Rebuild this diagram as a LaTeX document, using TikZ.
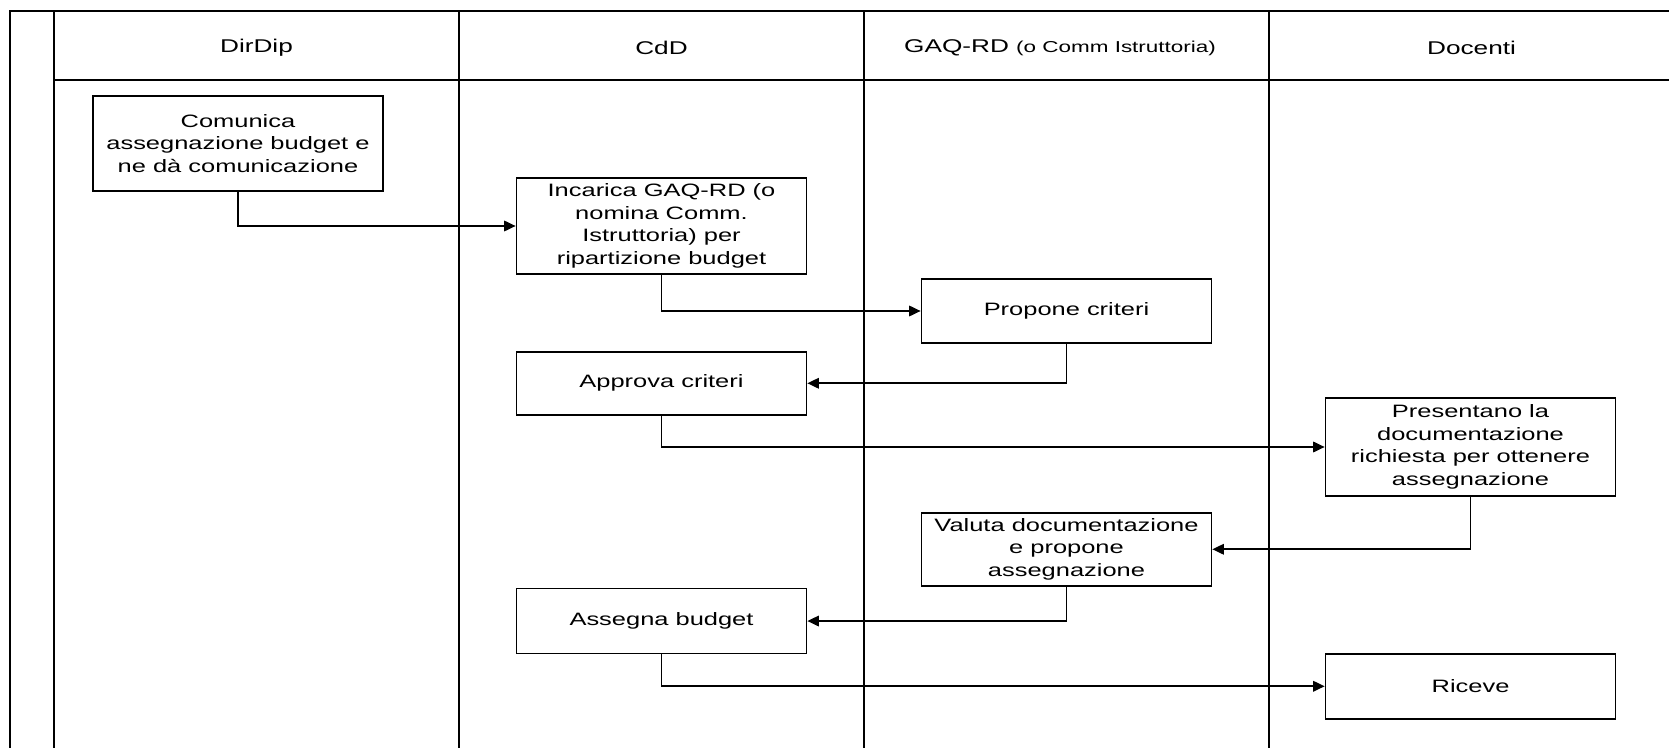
\documentclass[tikz,border=0pt]{standalone}
\usepackage{fontspec}
\setmainfont[FakeStretch=1.42]{Liberation Sans}
\usepackage{tikz}
\usetikzlibrary{positioning,arrows.meta}

\begin{document}
\begin{tikzpicture}[%
trans/.style={->,>={Triangle[length=6.5pt,width=6pt]},line width=0.9pt},%
lane/.style={line width=1.1pt},%
task/.style={draw,line width=1pt,minimum width=5.8cm,inner sep=1pt,align=center,font=\fontsize{10.2}{12.9}\selectfont},%
lanehead/.style={font=\fontsize{10.5}{12}\selectfont},%
node distance=1.52cm,%
  ]
    \useasboundingbox (0,0) rectangle (33.38,-14.96);

    % corsie
    \draw[lane] (0.2,-14.96) -- (0.2,-0.22) -- (33.38,-0.22);
    \draw[lane] (1.08,-1.6) -- (33.38,-1.6);
    \foreach \x in {1.08,9.18,17.28,25.38}
        \draw[lane] (\x,-0.22) -- (\x,-14.96);

    \node[lanehead] (dirdip) at (5.13,-0.95) {DirDip};
    \node[lanehead] (cdd) at (13.23,-0.95) {CdD};
    \node[lanehead] (gaq) at (21.2,-0.95) {GAQ-RD {\fontsize{9}{10}\selectfont (o Comm Istruttoria)}};
    \node[lanehead] (docenti) at (29.43,-0.95) {Docenti};

    \node[task,minimum height=1.9cm] (comunica) at (4.76,-2.87) {Comunica\\assegnazione budget e\\ne dà comunicazione};

    \node[task,minimum height=1.92cm] (incarica) at (13.23,-4.52) {Incarica GAQ-RD (o\\nomina Comm.\\Istruttoria) per\\ripartizione budget};

    \node[task,minimum height=1.28cm] (propone) at (21.33,-6.22) {Propone criteri};

    \node[task,minimum height=1.26cm] (approva) [below=of incarica] {Approva criteri};

    \node[task,minimum height=1.96cm] (presentano) at (29.41,-8.94) {Presentano la\\documentazione\\richiesta per ottenere\\assegnazione};

    \node[task,minimum height=1.46cm] (valuta) [below=3.36cm of propone] {Valuta documentazione\\e propone\\assegnazione};

    \node[task,minimum height=1.3cm] (assegna) [below=3.44cm of approva] {Assegna budget};

    \node[task,minimum height=1.3cm] (riceve) [below=3.12cm of presentano] {Riceve};

        \draw[trans] (comunica.south) |- (incarica.west);

        \draw[trans] (incarica.south) |- (propone.west);

        \draw[trans] (propone.south) |- (approva.east);

        \draw[trans] (approva.south) |- (presentano.west);

        \draw[trans] (presentano.south) |- (valuta.east);

        \draw[trans] (valuta.south) |- (assegna.east);

        \draw[trans] (assegna.south) |- (riceve.west);
\end{tikzpicture}
\end{document}
